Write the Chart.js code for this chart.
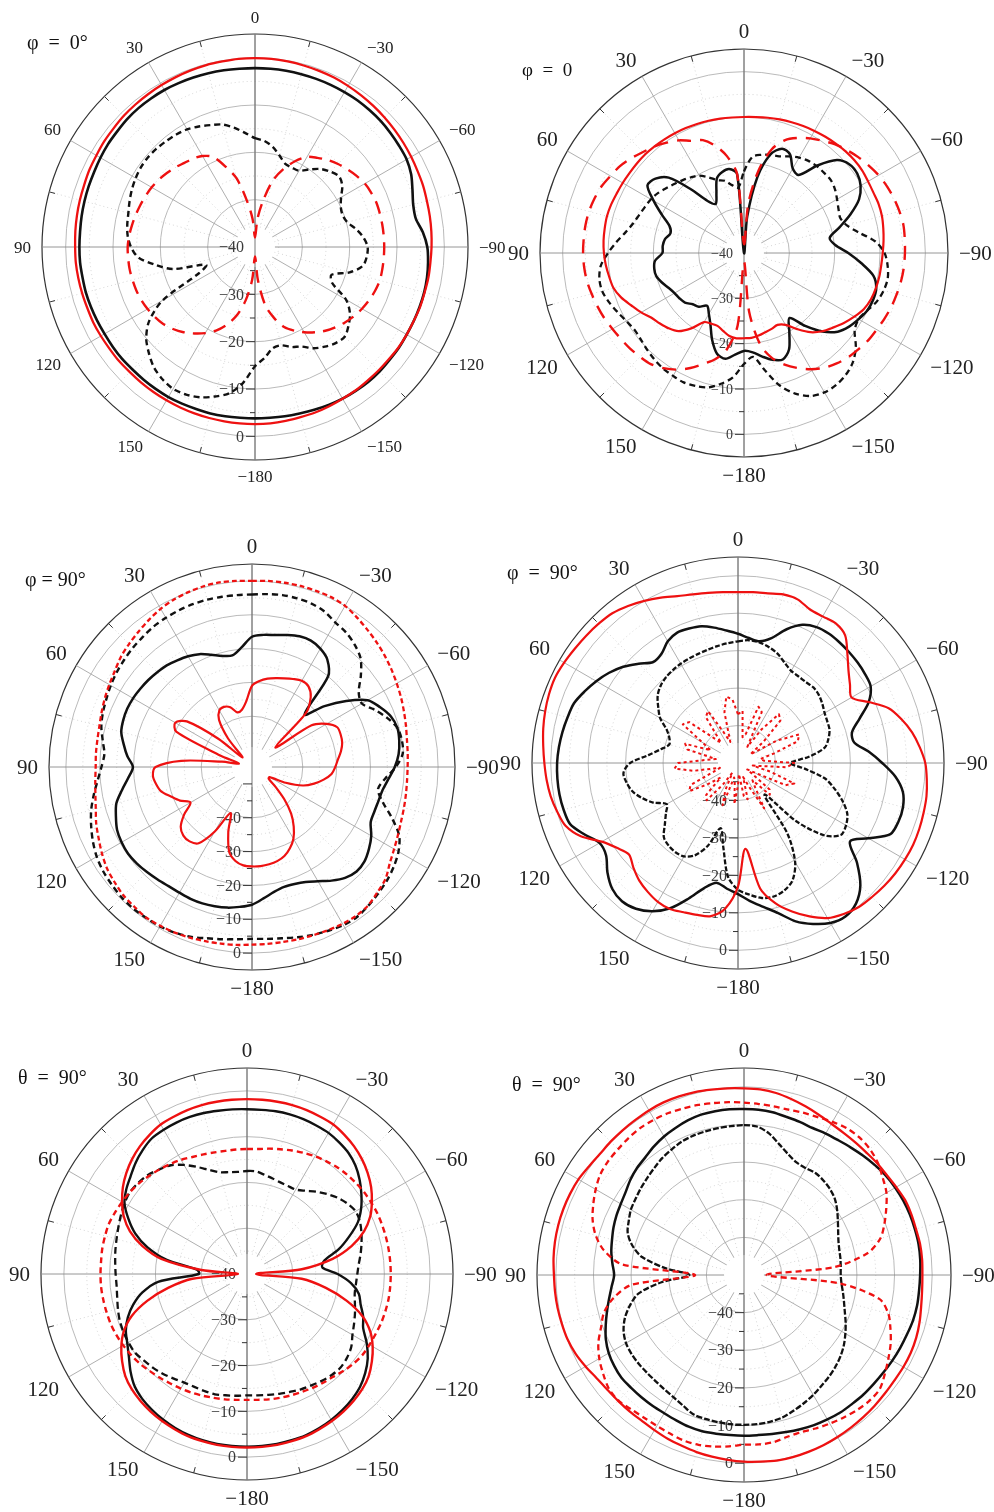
<!DOCTYPE html>
<html>
<head>
<meta charset="utf-8">
<title>Radiation patterns</title>
<script src="https://cdn.jsdelivr.net/npm/chart.js"></script>
<style>
  html, body { margin: 0; padding: 0; background: #fff; }
  #page { position: relative; width: 994px; height: 1512px; overflow: hidden; background: #fff; }
  #page canvas { position: absolute; }
</style>
</head>
<body>
<div id="page">
  <canvas id="p1"></canvas>
  <canvas id="p2"></canvas>
  <canvas id="p3"></canvas>
  <canvas id="p4"></canvas>
  <canvas id="p5"></canvas>
  <canvas id="p6"></canvas>
</div>
<script>
// sample angles (deg), going clockwise from the top of each plot
const angles = [
  0,
  -5, -10, -15, -20, -25, -30, -35, -40, -45, -50,
  -55, -60, -65, -70, -75, -80, -85, -90, -95, -100,
  -105, -110, -115, -120, -125, -130, -135, -140, -145, -150,
  -155, -160, -165, -170, -175, -180,
  175, 170, 165, 160, 155, 150, 145, 140, 135,
  130, 125, 120, 115, 110, 105, 100, 95, 90, 85,
  80, 75, 70, 65, 60, 55, 50, 45, 40, 35,
  30, 25, 20, 15, 10, 5
];

// rings of the radial axis (dB) and the ones that carry a label
const rings40 = [-40, -35, -30, -25, -20, -15, -10, -5, 0, 5];
const rings50 = [-50, -45, -40, -35, -30, -25, -20, -15, -10, -5, 0, 5];
const rings55 = [-55, -50, -45, -40, -35, -30, -25, -20, -15, -10, -5, 0, 5];
const tickLabels = [-40, -30, -20, -10, 0];

// ---- plot 1 : phi = 0 deg
const p1RedSolid = [
  -0.1,
  -0.1, -0.2, -0.3, -0.4, -0.5, -0.7, -0.9, -1.1, -1.3, -1.5,
  -1.7, -1.9, -2.1, -2.2, -2.4, -2.5, -2.6, -2.7, -2.8, -2.8,
  -2.9, -2.9, -3.0, -3.0, -3.0, -3.1, -3.1, -3.1, -3.0, -3.0,
  -2.9, -2.8, -2.8, -2.7, -2.6, -2.6,
  -2.6, -2.6, -2.6, -2.6, -2.6, -2.6, -2.6, -2.6, -2.6,
  -2.5, -2.5, -2.4, -2.3, -2.3, -2.2, -2.1, -2.0, -2.0, -1.9,
  -1.8, -1.7, -1.6, -1.4, -1.3, -1.1, -1.0, -0.8, -0.7, -0.6,
  -0.5, -0.4, -0.3, -0.2, -0.2, -0.1
];
const p1RedDashed = [
  -38,
  -34, -30, -25.5, -22.5, -20, -18, -17, -16, -15.2, -14.5,
  -13.8, -13.2, -12.9, -12.7, -12.7, -12.7, -12.7, -12.7, -12.7, -12.7,
  -12.7, -13, -13.4, -13.9, -14.5, -15.2, -16, -16.9, -18, -19.2,
  -20.5, -22, -24.5, -27.5, -33, -38,
  -33, -28.5, -25, -22.5, -20.5, -19, -17.7, -16.5, -15.5,
  -14.7, -14.2, -13.8, -13.5, -13.3, -13.2, -13.1, -13.1, -13.1, -13.3,
  -13.6, -13.9, -14.2, -14.5, -14.8, -15.2, -15.7, -16.2, -16.8, -17.2,
  -17.8, -19, -22, -25, -30, -34
];
const p1BlackSolid = [
  -2.2,
  -2.2, -2.2, -2.2, -2.2, -2.2, -2.2, -2.2, -2.3, -2.4, -2.6,
  -2.8, -3.0, -3.6, -4.6, -5.4, -5.5, -4.4, -3.6, -3.3, -3.1,
  -3.0, -3.0, -3.0, -3.0, -2.9, -2.9, -2.8, -2.8, -2.9, -3.0,
  -3.2, -3.4, -3.6, -3.7, -3.8, -3.8,
  -3.8, -3.7, -3.6, -3.6, -3.5, -3.4, -3.4, -3.4, -3.4,
  -3.3, -3.3, -3.3, -3.2, -3.1, -3.0, -3.0, -2.9, -2.9, -2.9,
  -2.8, -2.7, -2.6, -2.5, -2.3, -2.1, -2.0, -1.8, -1.7, -1.7,
  -1.7, -1.8, -1.9, -2.0, -2.1, -2.2
];
const p1BlackDashed = [
  -17,
  -17.5, -18.5, -20, -21.3, -21.5, -21.4, -20, -18.5, -17.5, -16.8,
  -17.5, -19, -20, -20.3, -19.8, -18.3, -17, -16.2, -16.3, -16.9,
  -19.3, -22.8, -22, -17.8, -15.5, -14.2, -13.2, -13.5, -14.3, -15.3,
  -16.8, -17.5, -18.5, -18.3, -16.5, -14.8,
  -11.2, -8.6, -7.3, -6.2, -5.6, -5.4, -5.9, -6.8, -8.3,
  -10, -12.7, -17.5, -27, -29, -22, -18.5, -15.2, -13.8, -13,
  -12.6, -12.3, -11.8, -11.3, -10.9, -10.6, -10.5, -10.6, -10.8, -11,
  -11.3, -11.9, -12.6, -13.2, -14.4, -15.8
];

// ---- plot 2 : phi = 0
const p2RedSolid = [
  -10,
  -9.9, -9.7, -9.5, -9.3, -9.1, -8.9, -8.7, -8.5, -8.3, -8.2,
  -8.2, -8.4, -8.5, -8.4, -8.5, -8.8, -9.1, -9.4, -9.6, -9.7,
  -9.9, -10.2, -10.8, -11.9, -13.1, -14.4, -15.6, -17.2, -19.5, -21.7,
  -22.5, -22.2, -21.9, -21.5, -21.2, -21.2,
  -21.1, -21.4, -22.2, -22.9, -22.8, -22.4, -19.7, -17.5, -16.5,
  -15.8, -15.1, -13.8, -12.6, -11.2, -10.2, -9.8, -9.4, -9.1, -8.9,
  -8.8, -8.7, -8.8, -9.0, -9.1, -9.2, -9.2, -9.2, -9.3, -9.4,
  -9.5, -9.6, -9.7, -9.8, -9.9, -10
];
const p2RedDashed = [
  -38,
  -29, -21.5, -16.3, -13.5, -12, -10.8, -9.8, -8.7, -7.9, -7.1,
  -6.4, -5.7, -5.2, -4.8, -4.5, -4.3, -4.4, -4.5, -4.6, -4.8,
  -5.1, -5.4, -5.8, -6.2, -6.5, -7, -7.5, -8.2, -9.1, -10.4,
  -12, -13.8, -16, -19.5, -27, -38,
  -24, -18.5, -15.8, -14, -12, -10.3, -9, -8, -7.6,
  -7.2, -6.9, -6.5, -6, -5.6, -5.2, -4.8, -4.6, -4.5, -4.5,
  -4.5, -4.6, -4.9, -5.3, -6, -6.6, -7.5, -8.5, -9.3, -10.3,
  -11.3, -12.7, -13.5, -15.5, -18.3, -22.5
];
const p2BlackSolid = [
  -40,
  -32, -23, -17.5, -15.5, -16, -18.5, -19, -14.8, -11, -9.6,
  -9.5, -10.3, -12, -15, -18.2, -20.8, -19.8, -17, -14, -11,
  -9.8, -9.7, -10, -10.8, -11.7, -13, -15.5, -19, -22.5, -20,
  -16.5, -15, -15.6, -16.8, -18, -18.4,
  -17.5, -16.3, -17, -19.5, -22.5, -24.5, -25.8, -24.5, -24,
  -23, -22.6, -22.3, -21.7, -20.8, -20, -19.9, -20.3, -22, -22,
  -22.3, -23.2, -22.5, -20, -17, -14, -14.5, -16.5, -21.5, -26,
  -27.5, -25.6, -22.5, -21.5, -21.2, -22.5
];
const p2BlackDashed = [
  -22,
  -18.7, -18, -17.6, -17.3, -16.5, -15.7, -15.2, -15, -15, -15,
  -15.5, -16.3, -17, -17.4, -16.5, -14.2, -10.9, -9, -8.2, -7.8,
  -8.1, -8.8, -10, -10.8, -10.2, -7.8, -6, -5, -4.5, -4.5,
  -5.2, -7, -9.8, -13.8, -17, -15.5,
  -12.5, -10.7, -9.3, -8.8, -8.5, -8.7, -8.9, -9.3, -9.8,
  -10.3, -10.5, -10, -9.2, -8.3, -7.6, -7.6, -8.3, -10, -11.8,
  -13.5, -14.7, -15.4, -15.9, -16.3, -16.9, -17.7, -18.4, -19, -19.6,
  -20.3, -21.6, -22.9, -23.5, -24.8, -25.5
];

// ---- plot 3 : phi = 90 deg
const p3RedSolid = [
  -31,
  -29.5, -28.5, -27.8, -27.1, -26.3, -25.6, -25.9, -28, -32.5, -46,
  -33.5, -29.5, -27.2, -27.1, -27.4, -28.3, -29.5, -30.4, -31.4, -33.5,
  -36, -39, -44, -49, -49, -46, -41.5, -37, -33.5, -30.5,
  -28.5, -27, -26.2, -25.8, -25.6, -25.6,
  -25.8, -26.8, -29, -34.5, -40, -33, -27.5, -26.3, -26.3,
  -27.5, -30.5, -34, -31.5, -29.5, -27.2, -26.2, -25.6, -26.5, -34,
  -46, -51, -45, -30.3, -28.8, -31.5, -42, -51, -44, -38,
  -35.7, -35.4, -36.2, -38.3, -37.8, -35.5
];
const p3RedDashed = [
  0,
  0.2, 0.3, 0.4, 0.4, 0.4, 0, -1, -2, -2.9, -3.8,
  -4.7, -5.6, -6.4, -7.2, -7.9, -8.5, -8.8, -9, -9, -8.8,
  -8.5, -8.1, -7.4, -6.5, -5.3, -3.5, -2.6, -1.6, -1.3, -1.5,
  -1.8, -2.1, -2.3, -2.5, -2.5, -2.5,
  -2.2, -2, -1.7, -1.3, -1, -0.8, -0.6, -1, -1.3,
  -2, -2.7, -3.8, -5, -6, -7.2, -8, -8.5, -8.8, -8.7,
  -8.6, -8.3, -7.7, -7, -6.3, -5.5, -4.4, -3.6, -2.8, -1.9,
  -1, -0.4, 0, 0.3, 0.4, 0.2
];
const p3BlackSolid = [
  -16.5,
  -15.8, -15.4, -14.6, -13.9, -13.8, -14.6, -16.2, -20, -33, -27,
  -21, -15.5, -13.2, -11.3, -10.5, -10.8, -11.5, -12.8, -14.5, -15.8,
  -16.3, -16.5, -16.3, -14.3, -12.8, -11.6, -11.3, -12.2, -14, -16,
  -17.5, -18.2, -18.3, -17.5, -16, -14.3,
  -13.5, -12.8, -12.4, -12.1, -12, -12.1, -12, -11.6, -11.1,
  -10.6, -10.3, -10.5, -11, -12.2, -13.5, -16, -18.3, -19.8, -18,
  -16.5, -15, -14.5, -14.3, -14.4, -14.7, -15, -15.4, -15.8, -16.5,
  -17.2, -18.2, -19.7, -21, -21.5, -19.5
];
const p3BlackDashed = [
  -4,
  -3.7, -3.4, -3.4, -3.6, -4.3, -5.7, -6.5, -7.8, -9.6, -13,
  -16.5, -17.5, -15, -12.5, -10.5, -10, -10.3, -12.5, -15.5, -17.2,
  -15, -11, -7, -5, -3.8, -2.9, -2.2, -1.5, -0.9, -1,
  -1.6, -2.2, -2.9, -3.6, -4, -4.2,
  -3.9, -3.3, -2.6, -1.6, -1, -0.6, -0.5, -0.4, -0.5,
  -0.9, -1.3, -2, -3.1, -4.4, -5.8, -7.5, -9.2, -10.5, -11.2,
  -10.2, -8.9, -8.1, -7.5, -6.8, -6.2, -5.7, -5.2, -4.8, -4.3,
  -4.1, -3.9, -3.8, -3.8, -3.9, -4
];

// ---- plot 4 : phi = 90 deg
const p4RedSolid = [
  -4.4,
  -4.2, -4, -3.4, -3.5, -4.7, -4.8, -4.5, -5.5, -8.7, -11.5,
  -13.5, -15, -11.5, -7.2, -4.8, -2.8, -1.3, 0, 0.6, 1.1,
  1.3, 1.5, 1.6, 1.5, 1.3, 1, 0.6, 0.2, -0.8, -2.2,
  -4.8, -7.8, -11.2, -16, -27, -17,
  -11, -8.5, -8, -7.6, -7, -7.2, -8, -9, -10.5,
  -12, -10.5, -8, -3.7, -1, 0, 0.8, 1.3, 1.7, 2.2,
  2.8, 3.3, 3.7, 3.9, 3.6, 3.2, 2.9, 2.6, 2.2, 1.2,
  0, -1.3, -2.6, -3.4, -3.9, -4.2
];
const p4RedDashed = [
  -37,
  -36, -43, -42, -34, -35, -45, -39, -33, -34, -41,
  -46, -38, -32, -33, -40, -44, -43, -35, -37, -46,
  -41, -34, -36, -45, -47, -39, -38, -44, -42, -36,
  -43, -46, -40, -41, -47, -44,
  -39, -45, -46, -38, -42, -47, -43, -37, -38,
  -44, -40, -35, -36, -43, -45, -38, -33, -34, -41,
  -44, -36, -35, -42, -39, -32, -33, -40, -43, -35,
  -34, -41, -44, -36, -32, -33
];
const p4BlackSolid = [
  -15.5,
  -16.5, -17, -15.5, -12, -9.3, -8.1, -7.8, -7.9, -8.1, -8.3,
  -8.6, -9.1, -11.5, -15.5, -18.5, -18.5, -15, -11.5, -7.8, -5.3,
  -4.4, -4.4, -5.1, -9.8, -13.5, -8.5, -3.8, -1, 0, -0.7,
  -2.6, -5, -8.5, -11, -13, -15,
  -16.3, -17.5, -15.5, -11.5, -7.2, -4.3, -2.5, -1.8, -2.5,
  -4.5, -7, -7.3, -4.8, -2.3, -1.8, -1.6, -1.6, -1.7, -2,
  -2.4, -2.9, -3.4, -4.8, -6.3, -8, -10, -12.5, -14.8, -14.4,
  -12.5, -11.6, -11.8, -12.2, -13.3, -14.5
];
const p4BlackDashed = [
  -17.5,
  -17.1, -17.3, -18, -19, -20.5, -21.6, -21.8, -21.8, -21.5, -21.8,
  -22.5, -23.3, -23.7, -24, -25, -26.5, -31, -36, -32, -26.5,
  -23.3, -20.3, -17.8, -16.7, -16.5, -20, -28, -39, -27, -19.5,
  -15.5, -13.8, -13.1, -13.4, -14.7, -16.2,
  -19.5, -27.3, -32, -26.5, -22.8, -21.2, -20.9, -21.2, -22,
  -24.5, -26.5, -28, -25, -22.7, -20.8, -19.8, -19.3, -21.2, -26,
  -29, -31, -30.5, -29, -26, -24, -22, -20.8, -20.1, -19.7,
  -19.4, -19.2, -19, -18.7, -18.3, -17.9
];

// ---- plot 5 : theta = 90 deg
const p5RedSolid = [
  -1.8,
  -1.8, -1.8, -1.8, -1.9, -2.1, -2.3, -2.9, -3.6, -4.5, -5.6,
  -6.9, -8.5, -10.3, -12.8, -16.3, -21, -28, -38, -28, -22.5,
  -17.5, -13.2, -10.3, -8.3, -6.7, -5.3, -4.4, -3.8, -3.3, -2.9,
  -2.6, -2.3, -2.2, -2.1, -2.1, -2.1,
  -2.1, -2.1, -2.2, -2.3, -2.6, -2.9, -3.3, -3.8, -4.4,
  -5.3, -6.7, -8.3, -10.3, -13.2, -17.5, -22.5, -28, -38, -30,
  -21, -16.3, -12.8, -10.3, -8.5, -6.9, -5.6, -4.5, -3.6, -2.9,
  -2.3, -2.1, -1.9, -1.8, -1.8, -1.8
];
const p5RedDashed = [
  -12.7,
  -12.6, -12.2, -11.8, -11.3, -10.8, -10.3, -9.9, -9.5, -9.2, -9,
  -8.8, -8.7, -8.6, -8.6, -8.6, -8.6, -8.6, -8.6, -8.6, -8.6,
  -8.7, -8.8, -9, -9.1, -9.2, -9.6, -10.1, -10.7, -11, -11.3,
  -11.6, -11.8, -12, -12.2, -12.4, -12.5,
  -12.4, -12.2, -12, -11.7, -11.4, -11.1, -10.8, -10.4, -10,
  -9.5, -9.1, -8.8, -8.5, -8.3, -8.2, -8.1, -8, -8, -8,
  -7.9, -7.9, -7.9, -8.2, -8.5, -8.8, -9.2, -9.7, -10.2, -10.7,
  -11.2, -11.8, -12.2, -12.5, -12.7, -12.7
];
const p5BlackSolid = [
  -4,
  -4, -3.9, -3.9, -4, -4.2, -4.4, -4.9, -5.5, -6.5, -7.9,
  -9.5, -11.2, -13.3, -16.3, -19.3, -22.8, -23.5, -20.2, -17.2, -15.2,
  -14.3, -13, -12, -9.8, -7.8, -6.3, -5.1, -4.3, -3.7, -3.2,
  -2.8, -2.5, -2.4, -2.3, -2.3, -2.3,
  -2.3, -2.3, -2.4, -2.6, -2.9, -3.3, -3.8, -4.4, -5.3,
  -6.8, -8.5, -9.8, -10.8, -12.3, -14.3, -16.8, -20.5, -29.5, -29,
  -22.2, -17.5, -14, -11.4, -9.1, -7.8, -6.8, -5.6, -4.6, -3.8,
  -3.6, -3.5, -3.5, -3.6, -3.8, -3.9
];
const p5BlackDashed = [
  -17.5,
  -17.5, -18, -18.4, -18.7, -18.8, -18.7, -17.8, -16.5, -15.3, -14.1,
  -13.2, -12.6, -12.8, -13.4, -14.1, -14.8, -15.5, -15.9, -16.1, -16.1,
  -15.6, -14.9, -14.2, -13.4, -12.2, -11.5, -11.1, -11.2, -11.5, -11.9,
  -12.2, -12.6, -12.9, -13.2, -13.4, -13.5,
  -13.3, -13.1, -12.8, -12.8, -12.8, -12.6, -12.1, -11.5, -11,
  -10.6, -10.1, -10.1, -10.2, -10.4, -10.8, -11.2, -11.4, -11.3, -11.1,
  -10.8, -10.5, -10.1, -9.6, -9.1, -8.8, -9, -9.4, -10.2, -11,
  -12.5, -14.2, -15.8, -17, -17.4, -17.6
];

// ---- plot 6 : theta = 90 deg
const p6RedSolid = [
  -0.4,
  -0.5, -0.9, -1.6, -2.3, -3, -3.6, -3.9, -4, -4, -3.8,
  -3.7, -3.3, -2.8, -2.7, -2.7, -2.5, -2.5, -2.6, -2.5, -2.2,
  -1.7, -1.3, -1.1, -1.1, -1.2, -1.1, -0.9, -0.7, -0.5, -0.3,
  -0.1, 0, 0.1, 0.1, -0.2, -0.4,
  -0.7, -1, -1.3, -1.7, -2, -2.4, -2.7, -2.7, -2.7,
  -2.6, -2.2, -1.4, -0.6, -0.1, 0.1, 0.3, 0.4, 0.5, 0.8,
  1, 1.1, 1.1, 1, 0.8, 0.3, 0, 0.1, 0.2, 0.3,
  0.5, 0.6, 0.5, 0.3, 0, -0.2
];
const p6RedDashed = [
  -4.2,
  -4.4, -4.5, -4.5, -4.1, -3.7, -3, -2.4, -2.3, -2.7, -3.6,
  -5, -6.3, -8.3, -10.3, -12.5, -16.7, -26, -44, -24.5, -13.5,
  -10.3, -8.6, -7, -5.7, -4.3, -2.9, -2.8, -3.2, -3.8, -4.4,
  -5, -5.6, -5.5, -4.9, -4.8, -4.9,
  -4.3, -3.7, -3.3, -3.2, -3.5, -3.7, -3.7, -3.4, -2.8,
  -3.1, -4.3, -5.6, -7.3, -9.6, -11.5, -14.8, -20, -37, -17.5,
  -12.2, -9.2, -7.2, -5.8, -4.5, -3.4, -2.9, -2.7, -2.4, -2.2,
  -2.3, -2.5, -2.9, -3.2, -3.6, -3.9
];
const p6BlackSolid = [
  -5.9,
  -5.9, -6.1, -6.5, -6.7, -6.9, -6.6, -6.3, -5.8, -5.2, -4.6,
  -4, -3.6, -3.3, -3.1, -3, -2.9, -3, -3.2, -3.3, -3.3,
  -3.5, -3.9, -4.2, -4.5, -4.8, -5, -5.1, -5.3, -5.4, -5.7,
  -6, -6.4, -6.8, -7.1, -7.3, -7.3,
  -7.3, -7.2, -7, -7.1, -7.4, -7.6, -7.6, -7.6, -7.6,
  -7.5, -7.9, -8.5, -9.5, -10.9, -12.3, -13.6, -14.7, -15.5, -14.9,
  -14.2, -13.7, -13.1, -12.6, -12.2, -11.6, -10.6, -9.8, -9.2, -8.3,
  -7.5, -6.9, -6.3, -5.9, -5.8, -5.8
];
const p6BlackDashed = [
  -10.2,
  -10.4, -11.8, -14, -15.8, -17, -17.2, -16.9, -17.2, -17.7, -18.5,
  -19.8, -21.2, -22.4, -23.3, -23.8, -24, -24.2, -24.3, -24, -23.3,
  -22.5, -21.5, -20.2, -18.9, -17.6, -16.5, -15.6, -14.8, -14.1, -13.2,
  -12.4, -11.6, -10.8, -10.4, -10.2, -10.2,
  -10.2, -10.3, -10.4, -10.6, -11.7, -12.5, -13, -13.3, -13.4,
  -13.4, -13.5, -13.8, -14.7, -16.3, -18.6, -21.5, -28, -35.5, -29,
  -22.5, -19.2, -17.1, -16.2, -15.3, -14.8, -14.2, -13.6, -12.9, -12.1,
  -11.5, -10.9, -10.6, -10.5, -10.4, -10.3
];

const RED = '#ee1111';
const BLACK = '#111111';
const SERIF = '"Liberation Serif", "DejaVu Serif", serif';

const fmt = v => (v < 0 ? '\u2212' + Math.abs(v) : String(v));

// frame details the radial scale does not draw by itself: value ticks on the
// -180 spoke, small marks on the rim, angle labels and the panel caption
const polarFrame = {
  id: 'polarFrame',
  beforeDatasetsDraw(chart, args, o) {
    const s = chart.scales.r;
    const ctx = chart.ctx;
    const labels = chart.data.labels;
    const down = labels.indexOf(-180);
    ctx.save();
    ctx.fillStyle = '#fff';
    ctx.beginPath();
    ctx.arc(s.xCenter, s.yCenter, 20, 0, Math.PI * 2);
    ctx.fill();
    const a = s.getPointPosition(labels.indexOf(0), s.drawingArea);
    const b = s.getPointPosition(down, s.drawingArea);
    ctx.strokeStyle = '#777';
    ctx.lineWidth = 1;
    ctx.beginPath(); ctx.moveTo(a.x, a.y); ctx.lineTo(b.x, b.y); ctx.stroke();

    ctx.strokeStyle = '#333';
    labels.forEach((ang, i) => {
      if (ang % 15 === 0 && ang % 30 !== 0) {
        const p = s.getPointPosition(i, s.drawingArea);
        const q = s.getPointPosition(i, s.drawingArea - 6);
        ctx.beginPath(); ctx.moveTo(p.x, p.y); ctx.lineTo(q.x, q.y); ctx.stroke();
      }
    });

    ctx.font = o.tickSize + 'px ' + SERIF;
    ctx.fillStyle = '#3a3a3a';
    ctx.textAlign = 'right';
    ctx.textBaseline = 'middle';
    s.ticks.forEach(t => {
      const v = t.value;
      const p = s.getPointPosition(down, s.getDistanceFromCenterForValue(v));
      if (v > s.min && v < s.max) {
        const len = v % 10 === 0 ? 9 : 5;
        ctx.beginPath(); ctx.moveTo(p.x - len, p.y); ctx.lineTo(p.x, p.y); ctx.stroke();
      }
      if (tickLabels.includes(v)) ctx.fillText(fmt(v), p.x - 11, p.y + 1);
    });
    ctx.restore();
  },
  afterDraw(chart, args, o) {
    const s = chart.scales.r;
    const ctx = chart.ctx;
    ctx.save();
    ctx.fillStyle = '#222';
    ctx.font = o.labelSize + 'px ' + SERIF;
    ctx.textBaseline = 'alphabetic';
    const cap = o.labelSize * 0.66;
    chart.data.labels.forEach((ang, i) => {
      if (ang % 30 !== 0) return;
      const deg = Math.round(s.getIndexAngle(i) * 180 / Math.PI) % 360;
      const p = s.getPointPosition(i, s.drawingArea + 11);
      let y = p.y;
      if (deg === 90 || deg === 270) y = p.y + cap / 2;
      else if (deg > 90 && deg < 270) y = p.y + cap;
      ctx.textAlign = (deg === 0 || deg === 180) ? 'center' : (deg < 180 ? 'left' : 'right');
      ctx.fillText(fmt(ang), p.x, y);
    });
    ctx.fillStyle = '#111';
    ctx.textAlign = 'left';
    ctx.font = o.titleSize + 'px ' + SERIF;
    ctx.fillText(o.title, o.titleX, o.titleY);
    ctx.restore();
  }
};

const panels = [
  { id: 'p1', x: 0, y: 0, w: 512, h: 510, cx: 255, cy: 247, R: 213, min: -40, rings: rings40,
    labelSize: 17, tickSize: 16, title: '\u03c6  =  0\u00b0', titleSize: 20, titleX: 27, titleY: 49,
    series: [
      { data: p1RedSolid, color: RED, width: 2.3, dash: [] },
      { data: p1RedDashed, color: RED, width: 2.4, dash: [13, 8] },
      { data: p1BlackSolid, color: BLACK, width: 2.6, dash: [] },
      { data: p1BlackDashed, color: BLACK, width: 2.4, dash: [6, 4] }
    ] },
  { id: 'p2', x: 497, y: 0, w: 497, h: 510, cx: 744, cy: 253, R: 204, min: -40, rings: rings40,
    labelSize: 21, tickSize: 14, title: '\u03c6  =  0', titleSize: 19, titleX: 25, titleY: 76,
    series: [
      { data: p2RedSolid, color: RED, width: 2.2, dash: [] },
      { data: p2RedDashed, color: RED, width: 2.4, dash: [14, 9] },
      { data: p2BlackSolid, color: BLACK, width: 2.5, dash: [] },
      { data: p2BlackDashed, color: BLACK, width: 2.3, dash: [6, 4] }
    ] },
  { id: 'p3', x: 0, y: 510, w: 512, h: 510, cx: 252, cy: 767, R: 203, min: -55, rings: rings55,
    labelSize: 21, tickSize: 16, title: '\u03c6 = 90\u00b0', titleSize: 20, titleX: 25, titleY: 76,
    series: [
      { data: p3RedSolid, color: RED, width: 2.2, dash: [] },
      { data: p3RedDashed, color: RED, width: 2.3, dash: [5, 3] },
      { data: p3BlackSolid, color: BLACK, width: 2.5, dash: [] },
      { data: p3BlackDashed, color: BLACK, width: 2.4, dash: [6, 4] }
    ] },
  { id: 'p4', x: 497, y: 510, w: 497, h: 510, cx: 738, cy: 763, R: 206, min: -50, rings: rings50,
    labelSize: 21, tickSize: 16, title: '\u03c6  =  90\u00b0', titleSize: 20, titleX: 10, titleY: 69,
    series: [
      { data: p4RedSolid, color: RED, width: 2.2, dash: [] },
      { data: p4RedDashed, color: RED, width: 2.0, dash: [3, 3], tension: 0 },
      { data: p4BlackSolid, color: BLACK, width: 2.5, dash: [] },
      { data: p4BlackDashed, color: BLACK, width: 2.3, dash: [5, 2] }
    ] },
  { id: 'p5', x: 0, y: 1020, w: 512, h: 492, cx: 247, cy: 1274, R: 206, min: -40, rings: rings40,
    labelSize: 21, tickSize: 16, title: '\u03b8  =  90\u00b0', titleSize: 20, titleX: 18, titleY: 64,
    series: [
      { data: p5RedSolid, color: RED, width: 2.4, dash: [] },
      { data: p5RedDashed, color: RED, width: 2.4, dash: [6, 4] },
      { data: p5BlackSolid, color: BLACK, width: 2.4, dash: [] },
      { data: p5BlackDashed, color: BLACK, width: 2.3, dash: [7, 4] }
    ] },
  { id: 'p6', x: 497, y: 1020, w: 497, h: 492, cx: 744, cy: 1275, R: 207, min: -50, rings: rings50,
    labelSize: 21, tickSize: 16, title: '\u03b8  =  90\u00b0', titleSize: 20, titleX: 15, titleY: 71,
    series: [
      { data: p6RedSolid, color: RED, width: 2.3, dash: [] },
      { data: p6RedDashed, color: RED, width: 2.3, dash: [6, 4] },
      { data: p6BlackSolid, color: BLACK, width: 2.5, dash: [] },
      { data: p6BlackDashed, color: BLACK, width: 2.3, dash: [6, 2] }
    ] }
];

panels.forEach(p => {
  const canvas = document.getElementById(p.id);
  canvas.width = p.w;
  canvas.height = p.h;
  canvas.style.left = p.x + 'px';
  canvas.style.top = p.y + 'px';

  new Chart(canvas, {
    type: 'radar',
    data: {
      labels: angles,
      datasets: p.series.map(sr => ({
        data: sr.data,
        borderColor: sr.color,
        borderWidth: sr.width,
        borderDash: sr.dash,
        borderJoinStyle: 'round',
        tension: sr.tension === undefined ? 0.3 : sr.tension,
        fill: false,
        pointRadius: 0,
        pointHoverRadius: 0,
        pointHitRadius: 0
      }))
    },
    options: {
      responsive: false,
      animation: false,
      devicePixelRatio: 1,
      events: [],
      layout: {
        padding: {
          left: p.cx - p.R - p.x,
          right: p.x + p.w - p.cx - p.R,
          top: p.cy - p.R - p.y,
          bottom: p.y + p.h - p.cy - p.R
        }
      },
      plugins: {
        legend: { display: false },
        tooltip: { enabled: false },
        polarFrame: {
          labelSize: p.labelSize, tickSize: p.tickSize, title: p.title,
          titleSize: p.titleSize, titleX: p.titleX, titleY: p.titleY
        }
      },
      scales: {
        r: {
          min: p.min,
          max: 5,
          startAngle: 0,
          afterBuildTicks: scale => { scale.ticks = p.rings.map(v => ({ value: v })); },
          ticks: { display: false },
          pointLabels: { display: false },
          grid: {
            circular: true,
            color: c => !c.tick ? '#bbb' : c.tick.value === 5 ? '#333' : (c.tick.value % 10 === 0 ? '#b2b2b2' : '#d0d0d0'),
            lineWidth: c => (c.tick && c.tick.value === 5) ? 1.2 : 0.9
          },
          border: {
            dash: c => (c.tick && c.tick.value % 10 !== 0 && c.tick.value !== 5) ? [1, 3] : []
          },
          angleLines: {
            color: c => c.index % 18 === 0 ? '#8a8a8a' : c.index % 6 === 0 ? '#a6a6a6' : '#d2d2d2',
            lineWidth: c => c.index % 3 === 0 ? 0.9 : 0,
            borderDash: c => c.index % 6 === 0 ? [] : [1, 3]
          }
        }
      }
    },
    plugins: [polarFrame]
  });
});
</script>
</body>
</html>
